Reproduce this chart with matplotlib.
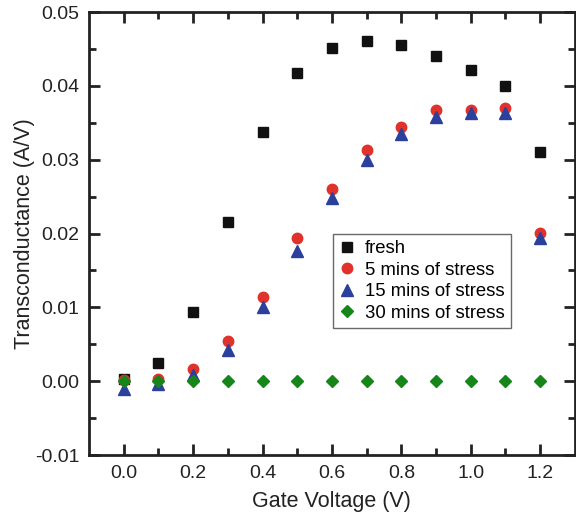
import matplotlib
matplotlib.use("Agg")
import matplotlib.pyplot as plt
from matplotlib.ticker import FixedLocator

plt.rcParams['font.family'] = ['Liberation Sans', 'DejaVu Sans']
plt.rcParams['axes.unicode_minus'] = False

gate_voltage = [0.0, 0.1, 0.2, 0.3, 0.4, 0.5, 0.6, 0.7, 0.8, 0.9, 1.0, 1.1, 1.2]
fresh = [0.0003, 0.0024, 0.0094, 0.0216, 0.0338, 0.0417, 0.0452, 0.0461, 0.0456, 0.0441, 0.0422, 0.0400, 0.0311]
stress_5 = [0.0002, 0.0003, 0.0017, 0.0054, 0.0114, 0.0194, 0.0261, 0.0313, 0.0344, 0.0367, 0.0367, 0.0370, 0.0201]
stress_15 = [-0.0011, -0.0004, 0.0008, 0.0042, 0.0100, 0.0177, 0.0248, 0.0300, 0.0335, 0.0358, 0.0363, 0.0363, 0.0194]
stress_30 = [0.0] * 13
labels = ["fresh", "5 mins of stress", "15 mins of stress", "30 mins of stress"]
x_ticks = [0.0, 0.2, 0.4, 0.6, 0.8, 1.0, 1.2]
x_ticklabels = ['0.0', '0.2', '0.4', '0.6', '0.8', '1.0', '1.2']
y_ticks = [-0.01, 0.0, 0.01, 0.02, 0.03, 0.04, 0.05]
y_ticklabels = ['-0.01', '0.00', '0.01', '0.02', '0.03', '0.04', '0.05']

fig = plt.figure(figsize=(5.76, 5.15), dpi=100)
ax = fig.add_axes([0.1545, 0.1165, 0.8435, 0.86])

ax.plot(gate_voltage, fresh, 's', color='#111111', markersize=6.5, label=labels[0], linestyle='none')
ax.plot(gate_voltage, stress_5, 'o', color='#e0312a', markersize=7.5, label=labels[1], linestyle='none')
ax.plot(gate_voltage, stress_15, '^', color='#2b3f9c', markersize=8, label=labels[2], linestyle='none')
ax.plot(gate_voltage, stress_30, 'D', color='#16861a', markersize=6.5, label=labels[3], linestyle='none')

ax.set_xlim(-0.1, 1.3)
ax.set_ylim(-0.01, 0.05)
ax.xaxis.set_major_locator(FixedLocator(x_ticks))
ax.xaxis.set_minor_locator(FixedLocator([0.1, 0.3, 0.5, 0.7, 0.9, 1.1]))
ax.yaxis.set_major_locator(FixedLocator(y_ticks))
ax.yaxis.set_minor_locator(FixedLocator([-0.005, 0.005, 0.015, 0.025, 0.035, 0.045]))
ax.set_xticklabels(x_ticklabels)
ax.set_yticklabels(y_ticklabels)

ax.tick_params(which='both', direction='in', top=True, right=True, labelsize=14, width=2, colors='#222222')
ax.tick_params(which='major', length=8, pad=7)
ax.tick_params(which='minor', length=5)
for s in ax.spines.values():
    s.set_linewidth(2)
    s.set_color('#222222')

ax.set_xlabel('Gate Voltage (V)', fontsize=15.5, color='#222222', labelpad=7)
ax.set_ylabel('Transconductance (A/V)', fontsize=15.5, color='#222222', labelpad=0)

leg = ax.legend(loc='upper left', bbox_to_anchor=(0.502, 0.5), fontsize=13.3, frameon=True,
                fancybox=False, edgecolor='#444444', handlelength=0.8, handletextpad=0.6,
                borderpad=0.35, labelspacing=0.25, borderaxespad=0)
leg.get_frame().set_linewidth(1)

fig.savefig('out.png', dpi=100)
